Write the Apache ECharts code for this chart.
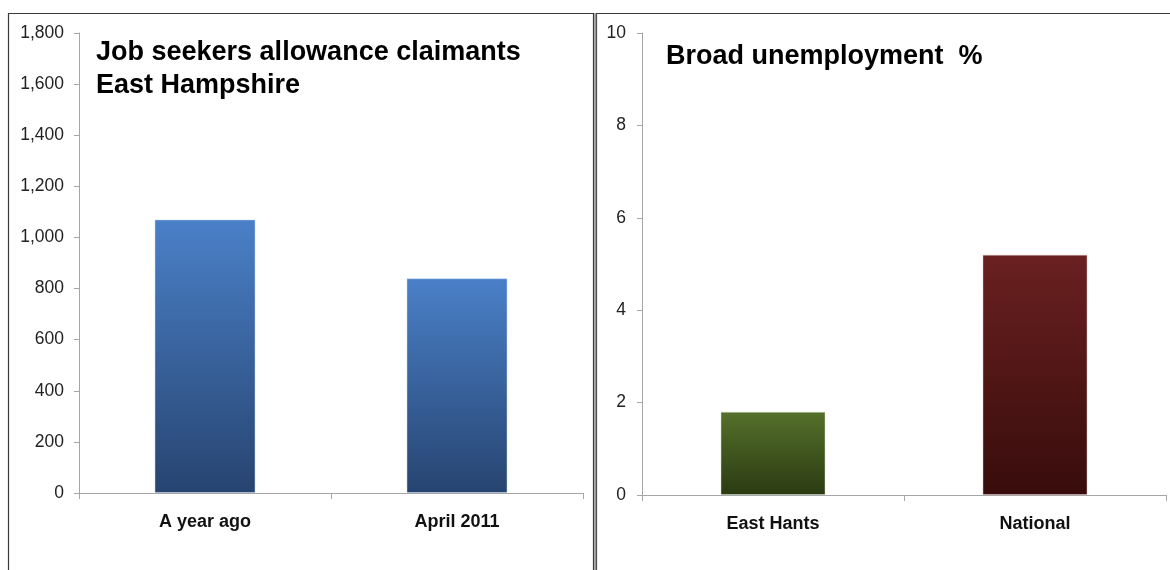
<!DOCTYPE html>
<html>
<head>
<meta charset="utf-8">
<script src="https://cdn.jsdelivr.net/npm/echarts@6/dist/echarts.min.js"></script>
<style>
html,body{margin:0;padding:0;background:#fff;}
#c{width:1170px;height:570px;}
</style>
</head>
<body>
<div id="c"></div>
<script>
var jsaCategories = ['A year ago', 'April 2011'];
var jsaValues = [1070, 840];
var unempCategories = ['East Hants', 'National'];
var unempValues = [1.8, 5.2];
var leftTitle = 'Job seekers allowance claimants\nEast Hampshire';
var rightTitle = 'Broad unemployment  %';

var FONT = 'Liberation Sans, Arial, sans-serif';
function grad(top, bottom) {
  return new echarts.graphic.LinearGradient(0, 0, 0, 1, [
    {offset: 0, color: top}, {offset: 1, color: bottom}
  ]);
}
var chart = echarts.init(document.getElementById('c'), null, {renderer: 'canvas'});
var axisLineStyle = {color: '#a6a6a6', width: 1};
var yLabel = {color: '#222', fontFamily: FONT, fontSize: 17.5, margin: 15};
var xLabel = {color: '#111', fontFamily: FONT, fontSize: 18, fontWeight: 'bold', margin: 20};
chart.setOption({
  animation: false,
  title: [
    {text: leftTitle, left: 91, top: 31,
     textStyle: {fontFamily: FONT, fontSize: 27, fontWeight: 'bold', color: '#000', lineHeight: 33}},
    {text: rightTitle, left: 661, top: 38,
     textStyle: {fontFamily: FONT, fontSize: 27, fontWeight: 'bold', color: '#000'}}
  ],
  graphic: [
    {type: 'rect', shape: {x: 8.5, y: 13.5, width: 585, height: 600},
     style: {fill: 'none', stroke: '#3a3a3a', lineWidth: 1.2}, silent: true},
    {type: 'rect', shape: {x: 596.5, y: 13.5, width: 620, height: 600},
     style: {fill: 'none', stroke: '#3a3a3a', lineWidth: 1.2}, silent: true},
    {type: 'line', shape: {x1: 595.2, y1: 13, x2: 595.2, y2: 570},
     style: {stroke: '#9a9a9a', lineWidth: 2}, silent: true}
  ],
  grid: [
    {left: 79, top: 33, width: 504, height: 460},
    {left: 642, top: 33, width: 524, height: 462}
  ],
  xAxis: [
    {type: 'category', gridIndex: 0, data: jsaCategories,
     axisLine: {lineStyle: axisLineStyle}, axisTick: {show: true, length: 6, lineStyle: axisLineStyle},
     axisLabel: xLabel},
    {type: 'category', gridIndex: 1, data: unempCategories,
     axisLine: {lineStyle: axisLineStyle}, axisTick: {show: true, length: 6, lineStyle: axisLineStyle},
     axisLabel: xLabel}
  ],
  yAxis: [
    {type: 'value', gridIndex: 0, min: 0, max: 1800, interval: 200,
     axisLine: {show: true, lineStyle: axisLineStyle},
     axisTick: {show: true, length: 5, lineStyle: axisLineStyle},
     splitLine: {show: false},
     axisLabel: Object.assign({}, yLabel, {formatter: function (v) { return v.toLocaleString('en-US'); }})},
    {type: 'value', gridIndex: 1, min: 0, max: 10, interval: 2,
     axisLine: {show: true, lineStyle: axisLineStyle},
     axisTick: {show: true, length: 5, lineStyle: axisLineStyle},
     splitLine: {show: false},
     axisLabel: Object.assign({}, yLabel, {margin: 16})}
  ],
  series: [
    {type: 'bar', xAxisIndex: 0, yAxisIndex: 0, data: jsaValues, barWidth: '40%',
     itemStyle: {color: grad('#4a80c8', '#274470'), borderColor: 'rgba(200,215,235,0.6)', borderWidth: 0.8}},
    {type: 'bar', xAxisIndex: 1, yAxisIndex: 1, barWidth: '40%',
     data: [
       {value: unempValues[0], itemStyle: {color: grad('#55702b', '#2b3a12'), borderColor: 'rgba(210,220,195,0.6)', borderWidth: 0.8}},
       {value: unempValues[1], itemStyle: {color: grad('#6a2020', '#380c0c'), borderColor: 'rgba(220,190,190,0.6)', borderWidth: 0.8}}
     ]}
  ]
});
</script>
</body>
</html>
